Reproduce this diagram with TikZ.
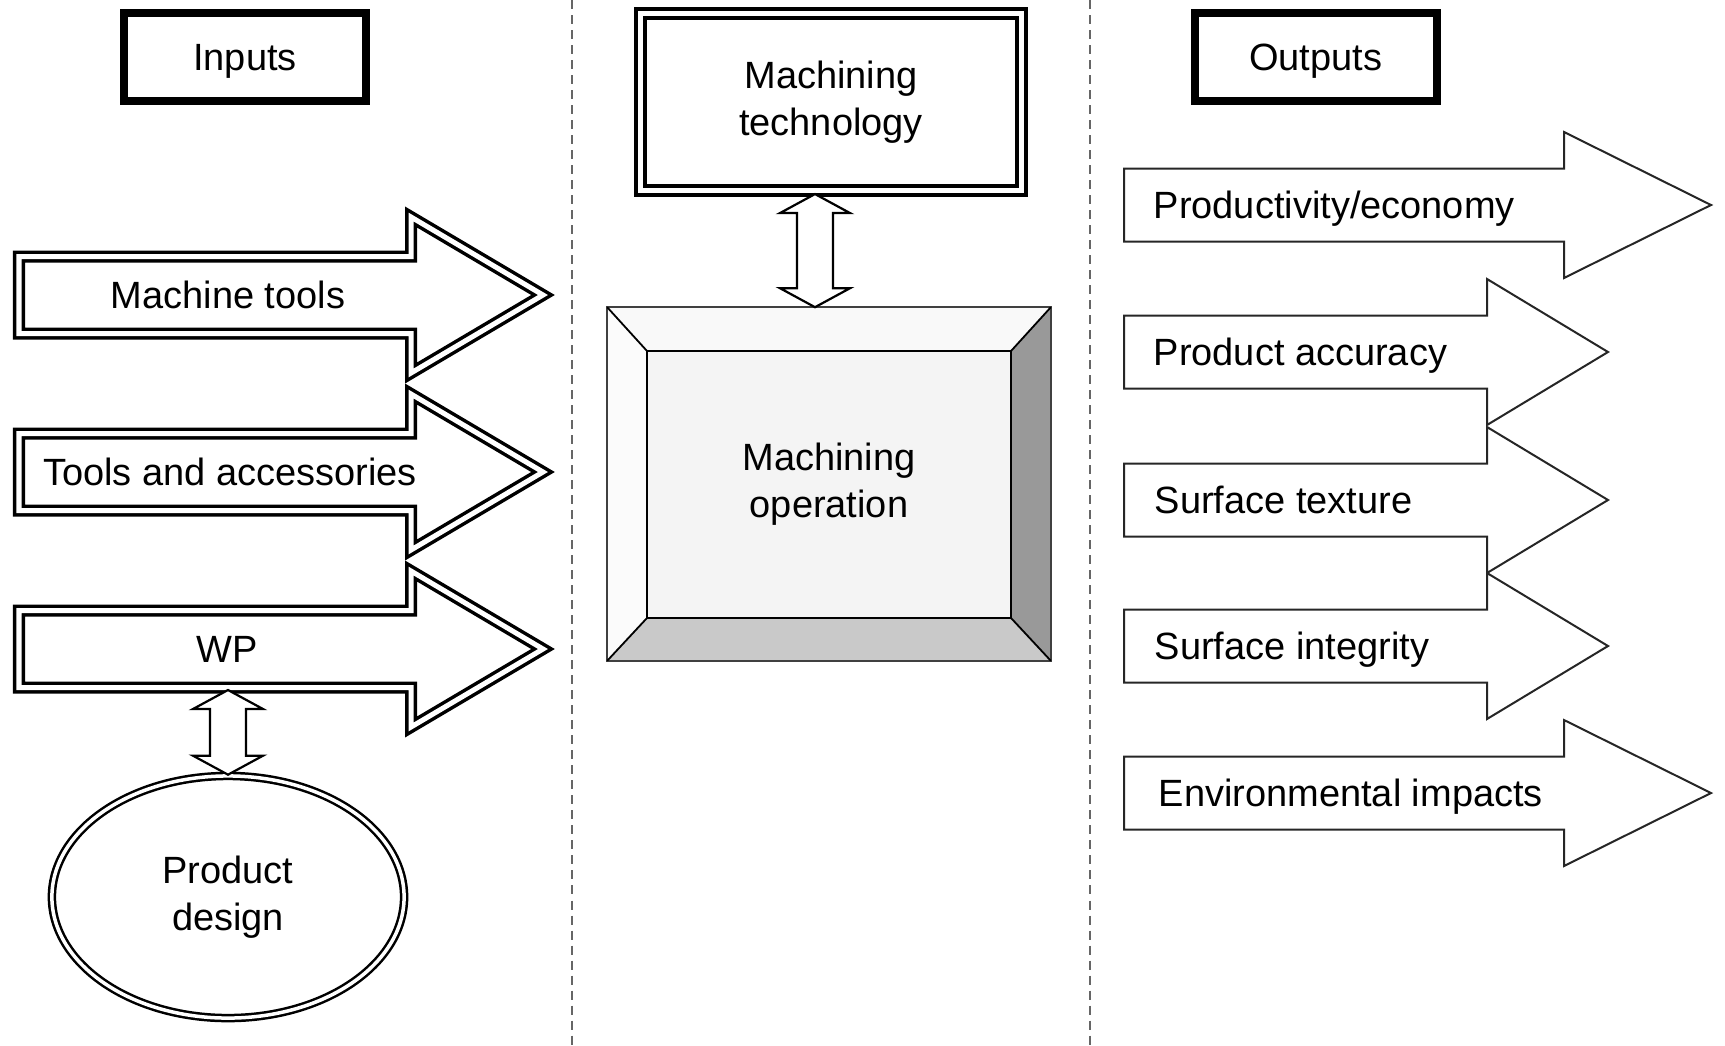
\documentclass[tikz,border=0pt]{standalone}
\usepackage{fontspec}
\setmainfont{Liberation Sans}
\usetikzlibrary{calc,positioning,shapes.geometric}
\definecolor{face}{gray}{0.955}
\definecolor{bevtop}{gray}{0.975}
\definecolor{bevleft}{gray}{0.985}
\definecolor{bevright}{gray}{0.6}
\definecolor{bevbottom}{gray}{0.79}
\tikzstyle{txt} = [font=\fontsize{10.8}{13.3}\selectfont, align=center, inner sep=0pt]
\tikzstyle{one} = [txt, text height=7.7pt, text depth=0pt]
\tikzstyle{headbox} = [one, draw=black, line width=0.08cm, minimum width=2.42cm, minimum height=0.87cm]
\tikzstyle{techbox} = [txt, draw=black, double=white, line width=0.04cm, double distance=0.05cm, minimum width=3.8cm, minimum height=1.76cm]
\tikzstyle{design} = [txt, ellipse, draw=black, double=white, line width=0.025cm, double distance=0.035cm, minimum width=3.52cm, minimum height=2.42cm]
\tikzstyle{inarrow} = [draw=black, double=white, line width=0.035cm, double distance=0.05cm, fill=white]
\tikzstyle{outarrow} = [draw=black!85, line width=0.02cm, fill=white]
\tikzstyle{twoway} = [draw=black, line width=0.022cm, fill=white, line join=miter]
\tikzstyle{divider} = [draw=black!60, line width=0.02cm, dash pattern=on 0.09cm off 0.06cm]
% block arrows: centre line y, head base x, tip x
\newcommand{\inarrow}[1]{\draw[inarrow] (19,#1-38.5) -- (411,#1-38.5) -- (411,#1-78) -- (543,#1) -- (411,#1+78) -- (411,#1+38.5) -- (19,#1+38.5) -- cycle;}
\newcommand{\outarrow}[3]{\draw[outarrow] (1124,#1-36.5) -- (#2,#1-36.5) -- (#2,#1-73) -- (#3,#1) -- (#2,#1+73) -- (#2,#1+36.5) -- (1124,#1+36.5) -- cycle;}
\newcommand{\twoway}[2]{\draw[twoway] (#1) -- ++(35,19) -- ++(-17,0) -- ($(#2)+(18,-19)$) -- ++(17,0) -- (#2) -- ++(-35,-19) -- ++(17,0) -- ($(#1)+(-18,19)$) -- ++(-17,0) -- cycle;}

\begin{document}
\begin{tikzpicture}[x=0.01cm,y=-0.01cm]
    \useasboundingbox (0,0) rectangle (1725,1045);

    \draw[divider] (572,0) -- (572,1045);
    \draw[divider] (1090,0) -- (1090,1045);

    \node[headbox] (inputs) at (245,57) {Inputs};
    \node[headbox] (outputs) [right of=inputs, node distance=10.7cm] {Outputs};

    % inputs
    \inarrow{295}
    \inarrow{472}
    \inarrow{649}
    \node[one] (tools) at (228,295) {Machine tools};
    \node[one] (acc) at (230,472) {Tools and accessories};
    \node[one] (wp) at (227,649) {WP};

    \node[design] (design) at (228,897) {Product\\design};
    \coordinate (wpfoot) at (228,690);
    \twoway{wpfoot}{design.north}

    % machining
    \node[techbox] (tech) at (831,102) {Machining\\technology};
    \node[minimum width=4.42cm, minimum height=3.52cm, inner sep=0pt] (op) at (829,484) {};
    \coordinate (i1) at ($(op.north west)+(40,44)$);
    \coordinate (i2) at ($(op.south east)+(-40,-43)$);
    \fill[face] (i1) rectangle (i2);
    \fill[bevtop] (op.north west) -- (op.north east) -- (i1 -| i2) -- (i1) -- cycle;
    \fill[bevright] (op.north east) -- (op.south east) -- (i2) -- (i1 -| i2) -- cycle;
    \fill[bevbottom] (op.south east) -- (op.south west) -- (i1 |- i2) -- (i2) -- cycle;
    \fill[bevleft] (op.north west) -- (i1) -- (i1 |- i2) -- (op.south west) -- cycle;
    \draw[black!75, line width=0.02cm] (op.north west) rectangle (op.south east);
    \draw[line width=0.02cm] (i1) rectangle (i2);
    \draw[line width=0.018cm] (op.north west) -- (i1) (op.north east) -- (i1 -| i2)
        (op.south east) -- (i2) (op.south west) -- (i1 |- i2);
    \node[txt] (optext) at (op.center) {Machining\\operation};
    \coordinate (techfoot) at ($(tech.south)+(-16,2)$);
    \coordinate (ophead) at (techfoot |- op.north);
    \twoway{techfoot}{ophead}

    % outputs
    \outarrow{205}{1564}{1711}
    \outarrow{352}{1487}{1608}
    \outarrow{500}{1487}{1608}
    \outarrow{646}{1487}{1608}
    \outarrow{793}{1564}{1711}
    \node[one, anchor=west] (prod) at (1153,205) {Productivity/economy};
    \node[one, anchor=west] (accuracy) at (1153,352) {Product accuracy};
    \node[one, anchor=west] (texture) at (1154,500) {Surface texture};
    \node[one, anchor=west] (integrity) at (1154,646) {Surface integrity};
    \node[one, anchor=west] (env) at (1158,793) {Environmental impacts};
\end{tikzpicture}
\end{document}
